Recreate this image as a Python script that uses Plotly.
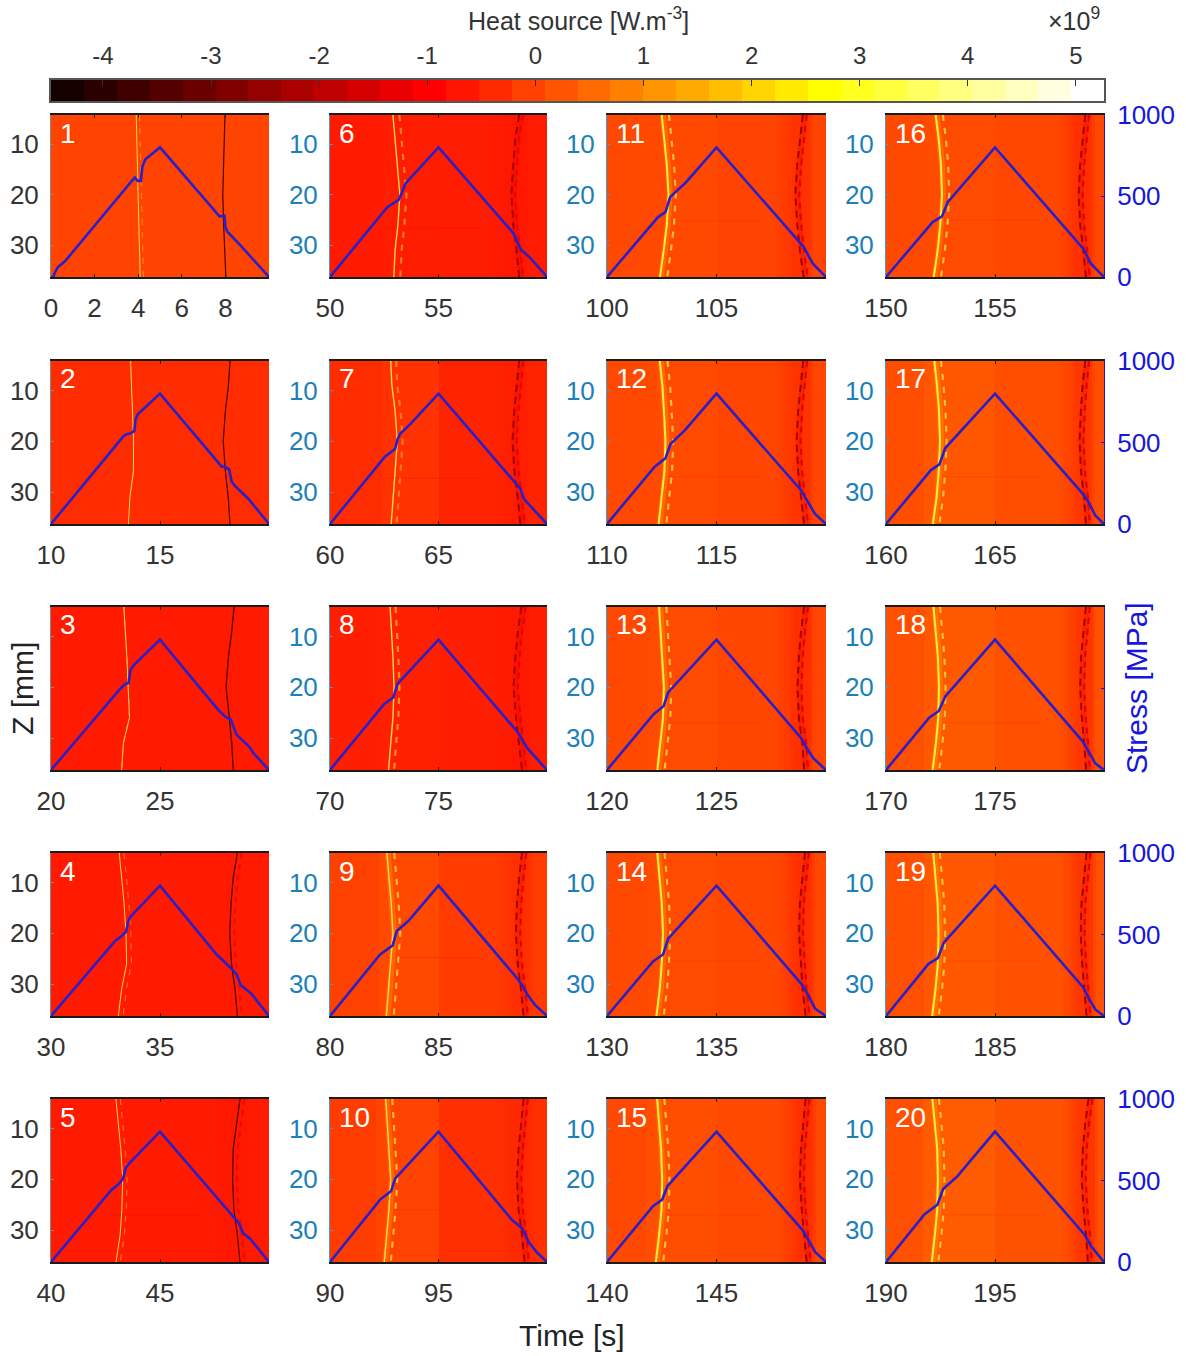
import plotly.graph_objects as go

W, H = 1186, 1356
FONT = "Liberation Sans"
PANEL_START = [0, 10, 20, 30, 40, 50, 60, 70, 80, 90, 100, 110, 120, 130, 140, 150, 160, 170, 180, 190]
Z_TICKS = [10, 20, 30]
STRESS_TICKS = [0, 500, 1000]
CBAR_TICKS = [-4, -3, -2, -1, 0, 1, 2, 3, 4, 5]
CBAR_MIN, CBAR_MAX, CBAR_STEPS = -4.48, 5.26, 32

# background heat source level per panel, 1e9 W/m3
BG_EARLY = [-.03, -.34, -.6, -.6, -.6, -.6, -.34, -.55, -.05, -.12, .05, .06, .05, .06, .05, .06, .14, .15, .15, .15]
BG_MID = [-.03, -.34, -.6, -.6, -.6, -.56, -.26, -.52, .05, -.02, .05, .08, .09, .1, .14, .1, .26, .3, .28, .32]
BG_LATE = [-.03, -.34, -.6, -.6, -.6, -.58, -.46, -.55, -.14, -.3, -.03, 0, 0, .03, .05, .03, .14, .16, .18, .2]
BG_COLD = [-.03, -.34, -.6, -.6, -.65, -.65, -.55, -.62, -.3, -.4, -.25, -.25, -.3, -.3, -.3, -.3, -.2, -.2, -.2, -.2]

BAND_Z = [4.2, 9, 14, 20, 26, 31, 36.3]
HOT_T = [
    [3.91, 3.93, 3.96, 4.0, 4.03, 4.06, 4.09], [3.65, 3.70, 3.74, 3.79, 3.78, 3.62, 3.55],
    [3.34, 3.42, 3.48, 3.54, 3.6, 3.32, 3.24], [3.13, 3.24, 3.35, 3.44, 3.47, 3.24, 3.09],
    [2.98, 3.09, 3.2, 3.29, 3.25, 3.17, 2.98], [2.9, 3.0, 3.1, 3.22, 3.13, 3.0, 2.94],
    [2.8, 2.85, 3.0, 3.1, 3.0, 2.92, 2.82], [2.77, 2.84, 2.9, 2.95, 2.9, 2.8, 2.7],
    [2.62, 2.72, 2.82, 2.9, 2.8, 2.7, 2.6], [2.57, 2.65, 2.72, 2.8, 2.72, 2.62, 2.5],
    [2.5, 2.62, 2.73, 2.81, 2.73, 2.59, 2.42], [2.41, 2.53, 2.6, 2.67, 2.62, 2.5, 2.36],
    [2.38, 2.45, 2.53, 2.6, 2.56, 2.44, 2.3], [2.3, 2.41, 2.5, 2.56, 2.5, 2.41, 2.26],
    [2.29, 2.38, 2.47, 2.52, 2.49, 2.38, 2.23], [2.28, 2.42, 2.52, 2.57, 2.49, 2.37, 2.19],
    [2.22, 2.34, 2.43, 2.48, 2.42, 2.32, 2.15], [2.18, 2.29, 2.38, 2.43, 2.4, 2.29, 2.14],
    [2.17, 2.27, 2.37, 2.41, 2.38, 2.27, 2.12], [2.13, 2.24, 2.35, 2.38, 2.35, 2.24, 2.1],
]
HOT2_DT = [.15, 0, 0, .22, .2, .3, .25, .25, .34, .3, .33, .35, .33, .33, .33, .33, .3, .3, .3, .3]
HOT2_ALPHA = [.5, 0, .4, .5, .5, .6, .5, .7, .95, .95, 1, 1, 1, 1, 1, 1, 1, 1, 1, 1]
COLD_T = [
    [7.98, 7.95, 7.9, 7.88, 7.92, 7.97, 8.02], [8.21, 8.14, 8.0, 7.9, 8.0, 8.13, 8.21],
    [8.4, 8.29, 8.14, 8.03, 8.18, 8.29, 8.36], [8.55, 8.36, 8.26, 8.2, 8.28, 8.44, 8.55],
    [8.67, 8.52, 8.36, 8.33, 8.39, 8.55, 8.67], [8.72, 8.54, 8.45, 8.36, 8.45, 8.6, 8.72],
    [8.72, 8.6, 8.49, 8.41, 8.5, 8.65, 8.77], [8.82, 8.66, 8.54, 8.46, 8.57, 8.72, 8.85],
    [8.85, 8.72, 8.62, 8.57, 8.65, 8.8, 8.92], [8.92, 8.82, 8.69, 8.62, 8.69, 8.85, 8.97],
    [8.94, 8.81, 8.69, 8.6, 8.69, 8.81, 8.98], [8.96, 8.84, 8.73, 8.66, 8.73, 8.86, 9.0],
    [9.0, 8.86, 8.76, 8.7, 8.76, 8.92, 9.0], [9.04, 8.92, 8.81, 8.77, 8.84, 8.93, 9.07],
    [9.07, 8.96, 8.86, 8.81, 8.89, 9.0, 9.12], [9.14, 9.02, 8.91, 8.84, 8.91, 9.05, 9.17],
    [9.14, 9.02, 8.94, 8.88, 8.95, 9.08, 9.17], [9.17, 9.06, 8.95, 8.91, 8.98, 9.09, 9.18],
    [9.2, 9.08, 8.97, 8.93, 9.0, 9.1, 9.2], [9.29, 9.14, 9.03, 8.98, 9.06, 9.18, 9.26],
]
COLD2_DT = [0, 0, 0, .2, .2, .18, .2, .2, .2, .2, .18, .18, .18, .18, .18, .18, .18, .18, .18, .18]
COLD2_ALPHA = [0, 0, .3, .5, .6, .7, .8, .8, .95, .95, 1, 1, 1, 1, 1, 1, 1, 1, 1, 1]

STREAK_Z = [None, None, None, None, 27, 26.5, 27.3, None, 24.8, 26, 25.2, 27, 27, 25.5, 27, 25, 27, 27, 25.5, 27]

STRESS_T = [
    [0, .1, .17, .31, .66, 3.63, 3.84, 3.98, 4.12, 4.19, 4.33, 5, 7.64, 7.73, 7.96, 8.0, 8.08, 8.69, 10],
    [0, 3.32, 3.44, 3.62, 3.82, 3.88, 3.98, 5, 7.83, 7.95, 8.17, 8.29, 8.44, 9.05, 10],
    [0, 3.09, 3.21, 3.41, 3.56, 3.64, 3.79, 5, 7.67, 8.05, 8.24, 8.51, 9.12, 9.28, 10],
    [0, 2.94, 3.24, 3.44, 3.55, 3.65, 5, 7.6, 8.33, 8.52, 8.7, 9.2, 10],
    [0, 2.75, 3.04, 3.29, 3.44, 3.6, 5, 8.44, 8.62, 8.82, 9.12, 10],
    [0, 2.64, 3.17, 3.35, 3.49, 5, 8.45, 8.8, 9.24, 10],
    [0, 2.54, 3.0, 3.11, 3.23, 3.69, 5, 8.54, 8.77, 8.95, 10],
    [0, 2.49, 2.92, 3.11, 5, 8.38, 8.65, 9.08, 10],
    [0, 2.31, 2.89, 3.08, 3.62, 5, 8.62, 8.85, 9.11, 9.46, 10],
    [0, 2.31, 2.82, 3.0, 5, 8.38, 8.85, 9.15, 9.54, 10],
    [0, 2.33, 2.67, 2.88, 3.61, 5, 8.72, 8.98, 9.4, 10],
    [0, 2.18, 2.67, 2.9, 3.55, 5, 8.86, 9.12, 9.5, 10],
    [0, 2.13, 2.59, 2.79, 5, 8.86, 9.12, 9.42, 10],
    [0, 2.1, 2.56, 2.79, 5, 8.92, 9.19, 9.5, 10],
    [0, 2.1, 2.52, 2.76, 5, 8.92, 9.2, 9.5, 10],
    [0, 2.14, 2.57, 2.83, 5, 9.05, 9.4, 10],
    [0, 2.06, 2.45, 2.72, 5, 9.02, 9.29, 9.6, 10],
    [0, 1.98, 2.42, 2.72, 5, 9.02, 9.29, 9.6, 10],
    [0, 1.95, 2.38, 2.65, 5, 9.05, 9.3, 9.6, 10],
    [0, 1.77, 2.36, 2.62, 3.27, 5, 9.1, 9.41, 9.72, 10],
]
STRESS_V = [
    [0, 0, 25, 60, 100, 583, 614, 593, 593, 682, 727, 800, 384, 374, 378, 312, 281, 195, 0],
    [0, 538, 549, 555, 569, 642, 673, 800, 352, 352, 335, 259, 234, 155, 0],
    [0, 491, 503, 528, 534, 611, 642, 800, 369, 321, 311, 217, 139, 104, 0],
    [0, 460, 491, 516, 584, 609, 800, 377, 284, 253, 190, 135, 0],
    [0, 439, 470, 507, 580, 607, 800, 269, 238, 176, 145, 0],
    [0, 431, 476, 538, 579, 800, 271, 168, 117, 0],
    [0, 414, 460, 518, 553, 611, 800, 259, 217, 151, 0],
    [0, 404, 445, 528, 800, 269, 232, 135, 0],
    [0, 377, 433, 522, 584, 800, 232, 190, 128, 66, 0],
    [0, 383, 435, 511, 800, 259, 207, 124, 58, 0],
    [0, 370, 400, 493, 585, 800, 226, 185, 82, 0],
    [0, 352, 404, 491, 574, 800, 207, 151, 62, 0],
    [0, 342, 393, 476, 800, 197, 135, 72, 0],
    [0, 335, 377, 474, 800, 190, 128, 45, 0],
    [0, 342, 383, 466, 800, 197, 135, 62, 0],
    [0, 339, 374, 462, 800, 175, 82, 0],
    [0, 331, 366, 466, 800, 186, 135, 52, 0],
    [0, 321, 362, 451, 800, 176, 114, 41, 0],
    [0, 320, 355, 450, 800, 175, 110, 40, 0],
    [0, 293, 351, 448, 525, 800, 169, 97, 45, 0],
]
NO_Z_LABELS = [3]
NO_STRESS_LABELS = [18]


def hot_rgb(i, n=CBAR_STEPS):
    n1 = int(3 * n / 8)
    n2 = n1 * 2
    r = min(1, (i + 1) / n1)
    g = 0 if i < n1 else min(1, (i + 1 - n1) / n1)
    b = 0 if i < n2 else (i + 1 - n2) / (n - n2)
    return f"rgb({round(r*255)},{round(g*255)},{round(b*255)})"


stops = [[0, hot_rgb(0)]] + [[(i + .5) / CBAR_STEPS, hot_rgb(i)] for i in range(CBAR_STEPS)] + [[1, hot_rgb(CBAR_STEPS - 1)]]

COL_X = [(51, 269), (330, 547), (607, 826), (886, 1104)]
ROW_Y = [(115, 277), (361, 524), (607, 770), (853, 1016), (1099, 1262)]
COL_LINE = ["#8a8a8a", "#4a9cc8", "#4a9cc8", "#4a9cc8"]
LABEL_BLUE = "#1c7fb9"
STRESS_BLUE = "#1616dc"
TICK_DARK = "#333333"

fig = go.Figure()
layout = dict(
    template="none",
    width=W, height=H, margin=dict(l=0, r=0, t=0, b=0, pad=0),
    paper_bgcolor="white", plot_bgcolor="white", showlegend=False,
    font=dict(family=FONT, size=26, color=TICK_DARK),
    coloraxis=dict(colorscale=stops, cmin=CBAR_MIN, cmax=CBAR_MAX, showscale=False),
)
annotations = []


def dom_x(a, b):
    return [a / W, b / W]


def dom_y(a, b):
    return [1 - b / H, 1 - a / H]


for p in range(20):
    col, row = p // 5, p % 5
    n = p + 1
    start = PANEL_START[p]
    xname, yname, y2name = f"x{n}", f"y{2*n-1}", f"y{2*n}"
    xkey, ykey, y2key = f"xaxis{n}", f"yaxis{2*n-1}", f"yaxis{2*n}"
    x0, x1 = COL_X[col]
    y0, y1 = ROW_Y[row]
    if p == 0:
        tickv = [0, 2, 4, 6, 8]
    else:
        tickv = [start, start + 5]
    layout[xkey] = dict(
        domain=dom_x(x0, x1), range=[start, start + 10], anchor=yname, tickmode="array",
        tickvals=tickv, ticktext=[str(v) for v in tickv], ticks="inside", ticklen=3, tickwidth=1,
        tickcolor="#222222", mirror="ticks", showline=True, linecolor="#1a1a1a", linewidth=2,
        showgrid=False, zeroline=False, ticklabelstandoff=7, automargin=False,
        tickfont=dict(family=FONT, size=26, color=TICK_DARK), layer="above traces",
    )
    layout[ykey] = dict(
        domain=dom_y(y0, y1), range=[36.3, 4.2], anchor=xname, tickmode="array",
        tickvals=Z_TICKS, ticktext=[str(v) for v in Z_TICKS], ticks="inside", ticklen=3, tickwidth=1,
        tickcolor=COL_LINE[col], showline=True, linecolor=COL_LINE[col], linewidth=1,
        showgrid=False, zeroline=False, ticklabelstandoff=6, automargin=False,
        showticklabels=n not in NO_Z_LABELS,
        tickfont=dict(family=FONT, size=26, color=TICK_DARK if col == 0 else LABEL_BLUE),
    )
    showright = col == 3
    layout[y2key] = dict(
        domain=dom_y(y0, y1), range=[0, 1000], anchor=xname, overlaying=yname, side="right",
        tickmode="array", tickvals=STRESS_TICKS if showright else [],
        ticktext=[str(v) for v in STRESS_TICKS] if showright else [],
        ticks="inside" if showright else "", ticklen=3, tickwidth=1, tickcolor=STRESS_BLUE,
        showline=showright, linecolor=STRESS_BLUE, linewidth=1, showgrid=False, zeroline=False,
        ticklabelstandoff=7, automargin=False, showticklabels=n not in NO_STRESS_LABELS,
        tickfont=dict(family=FONT, size=26, color=STRESS_BLUE),
    )
    hot = HOT_T[p]
    cold = COLD_T[p]
    h = min(hot) - .4
    c = min(cold)
    edges = [0, h, 5, c - .9, c - .75, c - .6, c - .45, c - .3, c - .15, max(cold) + .3, max(cold) + .42, 10]
    late, deep = BG_LATE[p], BG_COLD[p]
    ramp = [.15, .3, .45, .62, .8, 1, .45, 0]
    vals = [BG_EARLY[p], BG_MID[p], late] + [late + (deep - late) * f for f in ramp]
    vals = vals[:len(edges) - 1]
    fig.add_trace(go.Heatmap(
        x=[start + e for e in edges], y=[4.2, 36.3], z=[vals], coloraxis="coloraxis",
        xaxis=xname, yaxis=yname, hoverinfo="skip",
    ))
    if STREAK_Z[p] is not None:
        fig.add_trace(go.Scatter(
            x=[start + 2.6, start + 7], y=[STREAK_Z[p]] * 2, mode="lines", opacity=.3,
            line=dict(color="#e01000" if p < 9 else "#e83000", width=1), xaxis=xname, yaxis=yname, hoverinfo="skip",
        ))
    early = p < 5
    # cold band
    cw = 1.2 if early else 1.8
    if not early:
        fig.add_trace(go.Scatter(
            x=[start + t + .08 for t in cold], y=BAND_Z, mode="lines", opacity=.3,
            line=dict(color="#e80000", width=6), xaxis=xname, yaxis=yname, hoverinfo="skip",
        ))
    if COLD2_ALPHA[p] > 0:
        fig.add_trace(go.Scatter(
            x=[start + t + COLD2_DT[p] for t in cold], y=BAND_Z, mode="lines", opacity=COLD2_ALPHA[p],
            line=dict(color="#e60000", width=2.2, dash="6px,5px"), xaxis=xname, yaxis=yname, hoverinfo="skip",
        ))
    fig.add_trace(go.Scatter(
        x=[start + t for t in cold], y=BAND_Z, mode="lines",
        line=dict(color="#4a0000" if early else "#960000", width=cw, dash="solid" if early else "7px,5px"),
        xaxis=xname, yaxis=yname, hoverinfo="skip",
    ))
    # hot band
    if HOT2_ALPHA[p] > 0:
        fig.add_trace(go.Scatter(
            x=[start + t + HOT2_DT[p] for t in hot], y=BAND_Z, mode="lines", opacity=HOT2_ALPHA[p],
            line=dict(color="#ffc030", width=1.2 if early else 2.2, dash="6px,7px"),
            xaxis=xname, yaxis=yname, hoverinfo="skip",
        ))
    if p >= 8:
        fig.add_trace(go.Scatter(
            x=[start + t + .05 for t in hot], y=BAND_Z, mode="lines", opacity=.3,
            line=dict(color="#ffb000", width=6), xaxis=xname, yaxis=yname, hoverinfo="skip",
        ))
    fig.add_trace(go.Scatter(
        x=[start + t for t in hot], y=BAND_Z, mode="lines",
        line=dict(color="#ffd84a" if p < 10 else "#ffee3c", width=1 if early else (1.4 if p < 10 else 2)),
        xaxis=xname, yaxis=yname, hoverinfo="skip",
    ))
    # stress curve
    fig.add_trace(go.Scatter(
        x=[start + t for t in STRESS_T[p]], y=STRESS_V[p], mode="lines",
        line=dict(color="#2a1fc8", width=2.6), xaxis=xname, yaxis=y2name,
    ))
    annotations.append(dict(
        text=str(n), xref="paper", yref="paper", x=(x0 + 7) / W, y=1 - (y0 + 18) / H,
        xanchor="left", yanchor="middle", showarrow=False,
        font=dict(family=FONT, size=28, color="white"),
    ))

# colour bar
cb_levels = [CBAR_MIN + (i + .5) * (CBAR_MAX - CBAR_MIN) / CBAR_STEPS for i in range(CBAR_STEPS)]
cb_edges = [CBAR_MIN + i * (CBAR_MAX - CBAR_MIN) / CBAR_STEPS for i in range(CBAR_STEPS + 1)]
fig.add_trace(go.Heatmap(x=cb_edges, y=[0, 1], z=[cb_levels], coloraxis="coloraxis", xaxis="x21", yaxis="y41", hoverinfo="skip"))
layout["xaxis21"] = dict(
    domain=dom_x(51, 1104), range=[CBAR_MIN, CBAR_MAX], anchor="y41", side="top", tickmode="array",
    tickvals=CBAR_TICKS, ticktext=[str(v) for v in CBAR_TICKS], ticks="inside", ticklen=6, tickwidth=1,
    tickcolor="#333333", showline=True, mirror=True, linecolor="#555555", linewidth=1.5, showgrid=False,
    zeroline=False, ticklabelstandoff=5, automargin=False, tickfont=dict(family=FONT, size=24, color=TICK_DARK),
)
layout["yaxis41"] = dict(
    domain=dom_y(80, 101), range=[0, 1], anchor="x21", showticklabels=False, ticks="", showline=True,
    mirror=True, linecolor="#555555", linewidth=1.5, showgrid=False, zeroline=False, automargin=False,
)

annotations += [
    dict(text="Heat source [W.m<sup>-3</sup>]", x=578 / W, y=1 - 19 / H, font=dict(family=FONT, size=25, color=TICK_DARK)),
    dict(text="×10<sup>9</sup>", x=1074 / W, y=1 - 19 / H, font=dict(family=FONT, size=25, color=TICK_DARK)),
    dict(text="Time [s]", x=572 / W, y=1 - 1335 / H, font=dict(family=FONT, size=30, color="#222222")),
    dict(text="Z [mm]", x=22 / W, y=1 - 689 / H, textangle=-90, font=dict(family=FONT, size=30, color="#222222")),
    dict(text="Stress [MPa]", x=1136 / W, y=1 - 688 / H, textangle=-90, font=dict(family=FONT, size=30, color=STRESS_BLUE)),
]
for a in annotations:
    a.setdefault("xref", "paper")
    a.setdefault("yref", "paper")
    a.setdefault("showarrow", False)
    a.setdefault("xanchor", "center")
    a.setdefault("yanchor", "middle")
layout["annotations"] = annotations
fig.update_layout(**layout)
fig.write_html("out.html", config={"displayModeBar": False}, post_script="document.body.style.margin='0';")
